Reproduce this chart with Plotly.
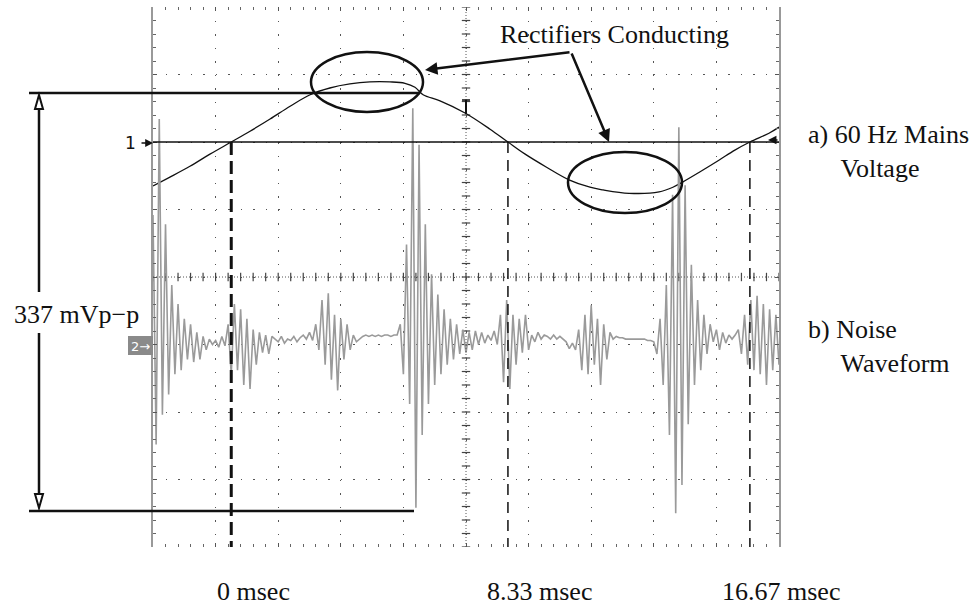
import numpy as np
import plotly.graph_objects as go

# ---------------- data ----------------
# Channel 1: 60 Hz mains voltage (time in ms, amplitude in screen divisions)
ch1_t = [-2.5, -1.96, -1.32, -0.68, 0.0, 0.60, 1.24, 1.88, 2.52, 3.15, 3.79, 4.43,
         5.07, 5.55, 5.87, 6.13, 6.67, 7.47, 8.27, 8.84, 9.39, 10.06, 10.79, 11.46,
         11.88, 12.71, 13.67, 14.11, 14.43, 14.98, 15.58, 16.09, 16.57, 17.18, 17.5]
ch1_div = [1.35, 1.48, 1.64, 1.82, 2.0, 2.16, 2.34, 2.53, 2.70, 2.80, 2.86, 2.89,
           2.89, 2.87, 2.81, 2.70, 2.61, 2.43, 2.19, 2.0, 1.82, 1.63, 1.44, 1.33,
           1.29, 1.24, 1.26, 1.33, 1.41, 1.56, 1.73, 1.88, 2.0, 2.13, 2.22]
ch1_ref_div = 2.0

# Channel 2: noise waveform (mV, 50 mV/div), sampled every 0.1 ms from -2.5 ms
noise_t0 = -2.5
noise_dt = 0.1
noise_mv = [96, -74, 167, -52, 89, -37, 44, -22, 30, -19,
            19, -11, 15, -13, 9, -11, 6, -4, 4, 0,
            3, -2, 6, -1, 15, -22, 30, -19, 26, -30,
            19, -33, 11, -15, 9, -6, 7, -7, 6, 4,
            2, 6, 1, 4, 3, 6, 2, 5, 7, 4,
            9, 3, 15, -4, 33, -15, 38, -26, 22, -34,
            19, -11, 15, -4, 7, 2, 4, 6, 7, 6,
            7, 6, 7, 6, 7, 7, 6, 7, 7, 15,
            -22, 74, -44, 175, -121, 148, -67, 89, -44, 52,
            -30, 37, -22, 26, -15, 19, -11, 15, -7, 11,
            -6, 9, -4, 10, 0, 9, 1, 7, 3, 10,
            0, 22, -28, 33, -33, 22, -15, 19, -6, 22,
            -4, 7, 2, 9, 4, 7, 6, 4, 7, 4,
            6, 4, 2, -3, 1, -4, 11, -19, 22, -22,
            29, -15, 19, -30, 15, -11, 9, 4, 6, 5,
            5, 4, 4, 4, 4, 4, 4, 4, 3, 3,
            2, -7, 19, -30, 44, -67, 111, -125, 161, -104,
            118, -59, 59, -30, 33, -19, 22, -7, 15, 2,
            11, -4, 9, 1, 7, 4, 7, 11, -7, 22,
            -15, 33, -19, 36, -22, 30, -30, 26, -19, 22,
            -15]
noise_t = [round(noise_t0 + noise_dt * i, 2) for i in range(len(noise_mv))]

# cursor (zero crossing) times and their labels
cursor_t = [0.0, 8.84, 16.57]
cursor_labels = ["0 msec", "8.33 msec", "16.67 msec"]

# ---------------- geometry helpers (pixel -> paper) ----------------
L, T, R, B = 153, 7, 779, 547
def PX(x):
    return (x - L) / (R - L)
def PY(y):
    return (B - y) / (B - T)

SERIF = "Liberation Serif, Times New Roman, serif"
BLK = "#111111"

fig = go.Figure()

# oscilloscope centre-cross tick marks
fig.add_trace(go.Scatter(x=np.arange(-2.5, 17.51, 0.4), y=[0] * 51, mode="markers",
                         marker=dict(symbol="line-ns", size=6, line=dict(width=1.2, color="#444")),
                         hoverinfo="skip", showlegend=False))
fig.add_trace(go.Scatter(x=[7.5] * 41, y=np.arange(-4, 4.01, 0.2), mode="markers",
                         marker=dict(symbol="line-ew", size=6, line=dict(width=1.2, color="#444")),
                         hoverinfo="skip", showlegend=False))

# noise waveform
fig.add_trace(go.Scatter(x=noise_t, y=noise_mv, yaxis="y2", mode="lines",
                         line=dict(color="#9a9a9a", width=1.6), showlegend=False))
# mains voltage
fig.add_trace(go.Scatter(x=ch1_t, y=ch1_div, mode="lines", line_shape="spline",
                         line=dict(color=BLK, width=1.3), showlegend=False))

shapes = []
# centre cross dotted lines
shapes.append(dict(type="line", xref="paper", yref="y", x0=0, x1=1, y0=0, y1=0,
                   line=dict(color="#555", width=1, dash="1px,2px")))
shapes.append(dict(type="line", xref="x", yref="paper", x0=7.5, x1=7.5, y0=0, y1=1,
                   line=dict(color="#555", width=1, dash="1px,2px")))
# channel 1 reference line
shapes.append(dict(type="line", xref="paper", yref="y", x0=0, x1=1, y0=ch1_ref_div, y1=ch1_ref_div,
                   line=dict(color=BLK, width=1.4)))
# cursor dashed lines
for i, t in enumerate(cursor_t):
    shapes.append(dict(type="line", xref="x", yref="y", x0=t, x1=t, y0=ch1_ref_div, y1=-4,
                       line=dict(color=BLK, width=3 if i == 0 else 1.5,
                                 dash="13px,6px" if i == 0 else "11px,7px")))
# ellipses
shapes.append(dict(type="circle", xref="paper", yref="paper", x0=PX(311), x1=PX(423),
                   y0=PY(112), y1=PY(52), line=dict(color=BLK, width=2.5)))
shapes.append(dict(type="circle", xref="paper", yref="paper", x0=PX(568), x1=PX(682),
                   y0=PY(213), y1=PY(152), line=dict(color=BLK, width=2.5)))
# 337 mVp-p dimension lines
shapes.append(dict(type="line", xref="paper", yref="paper", x0=PX(29), x1=PX(420),
                   y0=PY(93), y1=PY(93), line=dict(color=BLK, width=2.5)))
shapes.append(dict(type="line", xref="paper", yref="paper", x0=PX(29), x1=PX(414),
                   y0=PY(511), y1=PY(511), line=dict(color=BLK, width=2.5)))
shapes.append(dict(type="line", xref="paper", yref="paper", x0=PX(39), x1=PX(39),
                   y0=PY(108), y1=PY(292), line=dict(color=BLK, width=2.5)))
shapes.append(dict(type="line", xref="paper", yref="paper", x0=PX(39), x1=PX(39),
                   y0=PY(333), y1=PY(494), line=dict(color=BLK, width=2.5)))
shapes.append(dict(type="path", xref="paper", yref="paper",
                   path=f"M{PX(39)},{PY(95)} L{PX(35)},{PY(109)} L{PX(43)},{PY(109)} Z",
                   fillcolor="white", line=dict(color=BLK, width=2)))
shapes.append(dict(type="path", xref="paper", yref="paper",
                   path=f"M{PX(35)},{PY(494)} L{PX(43)},{PY(494)} L{PX(39)},{PY(508)} Z",
                   fillcolor="white", line=dict(color=BLK, width=2)))
# channel 2 marker tab
shapes.append(dict(type="rect", xref="paper", yref="paper", x0=PX(128), x1=PX(153),
                   y0=PY(355), y1=PY(336), fillcolor="#8a8a8a", line=dict(width=0)))
# trigger-position marker
shapes.append(dict(type="line", xref="paper", yref="paper", x0=PX(466), x1=PX(466),
                   y0=PY(100), y1=PY(114), line=dict(color=BLK, width=2)))
shapes.append(dict(type="line", xref="paper", yref="paper", x0=PX(462), x1=PX(470),
                   y0=PY(100), y1=PY(100), line=dict(color=BLK, width=1.5)))

ann = []
def txt(s, x, y, xa="left", size=26, color=BLK, family=SERIF):
    ann.append(dict(text=s, x=x, y=y, xref="paper", yref="paper", xanchor=xa, yanchor="middle",
                    align="left", showarrow=False, font=dict(family=family, size=size, color=color)))

IND = "\u00a0" * 5
txt("Rectifiers Conducting", PX(498), PY(35))
txt("a) 60 Hz Mains<br>" + IND + "Voltage", PX(806), PY(152))
txt("b) Noise<br>" + IND + "Waveform", PX(806), PY(346))
txt("337 mVp\u2212p", PX(12), PY(314))
txt("1", PX(138), PY(143), xa="right", size=17, family="DejaVu Sans")
txt("2\u2192", PX(140), PY(346), xa="center", size=13, color="white", family="DejaVu Sans")

label_shift = [22, 32, 31]
for t, lab, sh in zip(cursor_t, cursor_labels, label_shift):
    ann.append(dict(text=lab, x=t, y=PY(591), xref="x", yref="paper", xshift=sh,
                    xanchor="center", yanchor="middle", showarrow=False,
                    font=dict(family=SERIF, size=26, color=BLK)))

# arrows
def arrow(hx, hy, tx, ty, w=2.5, size=1.0):
    ann.append(dict(x=PX(hx), y=PY(hy), xref="paper", yref="paper", ax=tx - hx, ay=ty - hy,
                    showarrow=True, arrowhead=2, arrowsize=size, arrowwidth=w,
                    arrowcolor=BLK, text=""))

arrow(425, 70, 571, 52)
arrow(609, 142, 571, 52)
arrow(153, 143, 140, 143, w=1.3, size=1.2)
arrow(768, 140, 779, 140, w=1.3, size=1.3)

fig.update_layout(
    width=972, height=605, autosize=False,
    margin=dict(l=L, r=972 - R, t=T, b=605 - B),
    paper_bgcolor="white", plot_bgcolor="white",
    shapes=shapes, annotations=ann, showlegend=False,
    xaxis=dict(range=[-2.5, 17.5], tick0=-2.5, dtick=2, showgrid=True,
               gridcolor="#555", gridwidth=1.2, griddash="1.5px,12px",
               zeroline=False, showticklabels=False, showline=False,
               ticks="inside", ticklen=4, tickcolor="#555", mirror="ticks",
               minor=dict(ticks="inside", ticklen=3, dtick=0.4, tick0=-2.5, tickcolor="#666")),
    yaxis=dict(range=[-4, 4], tick0=-4, dtick=1, showgrid=True,
               gridcolor="#555", gridwidth=1.2, griddash="1.5px,11px",
               zeroline=False, showticklabels=False, showline=True, linecolor="#999",
               linewidth=2, mirror="ticks", ticks="inside", ticklen=4, tickcolor="#555",
               minor=dict(ticks="inside", ticklen=3, dtick=0.2, tick0=-4, tickcolor="#666")),
    yaxis2=dict(range=[-150, 250], overlaying="y", visible=False),
)

fig.write_html("out.html", config={"displayModeBar": False},
               post_script="document.body.style.margin='0px';document.body.style.overflow='hidden';")
